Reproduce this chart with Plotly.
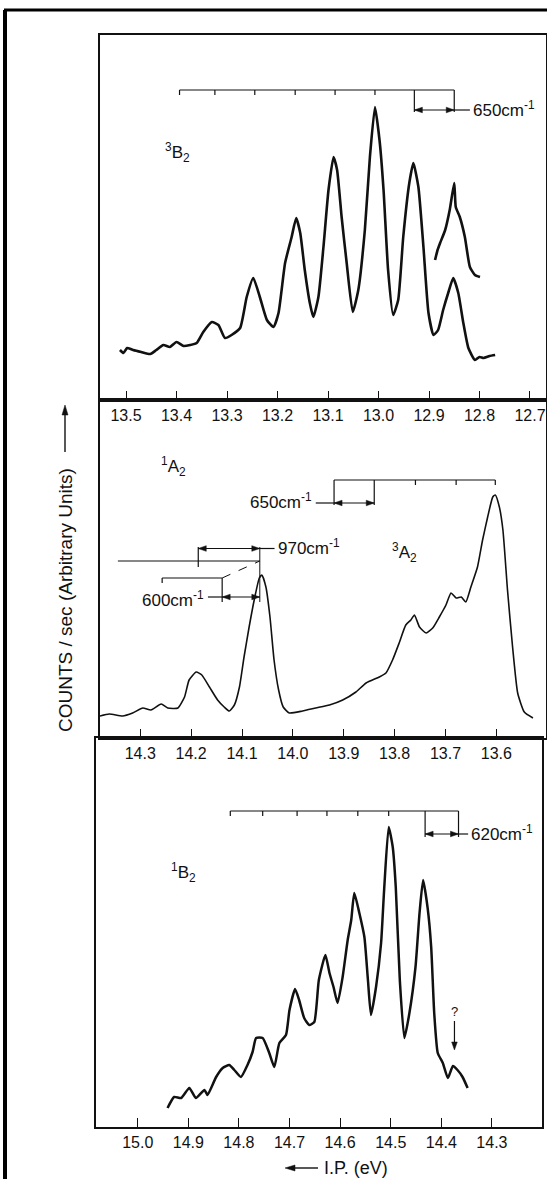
import plotly.graph_objects as go

# ---------------- data (I.P. in eV, intensity in arbitrary units) ----------------
# Panel 1: 3B2 band
e_3b2 = [13.512, 13.505, 13.498, 13.486, 13.470, 13.452, 13.440, 13.426, 13.413, 13.400, 13.386, 13.373,
         13.360, 13.347, 13.330, 13.317, 13.304, 13.291, 13.274, 13.261, 13.248, 13.235, 13.221,
         13.208, 13.198, 13.185, 13.172, 13.163, 13.155, 13.146, 13.136, 13.129, 13.119, 13.109,
         13.099, 13.089, 13.082, 13.073, 13.063, 13.051, 13.040, 13.027, 13.017, 13.007, 12.998,
         12.990, 12.981, 12.971, 12.961, 12.951, 12.939, 12.931, 12.921, 12.911, 12.901, 12.891,
         12.882, 12.872, 12.862, 12.852, 12.842, 12.832, 12.822, 12.809, 12.800, 12.792, 12.780, 12.769]
i_3b2 = [50, 47, 52, 50, 48, 46, 50, 55, 53, 58, 54, 55,
         57, 68, 78, 75, 62, 65, 72, 103, 122, 103, 80,
         73, 87, 137, 163, 182, 167, 130, 97, 83, 103, 153,
         210, 243, 230, 183, 137, 88, 110, 170, 243, 293, 260,
         210, 130, 85, 100, 163, 217, 237, 213, 153, 87, 65,
         70, 90, 107, 122, 107, 77, 52, 40, 43, 42, 44, 45]
# Panel 1: expanded-scale trace of the last peak
e_3b2_x = [12.888, 12.883, 12.878, 12.868, 12.859, 12.850, 12.847, 12.839, 12.829, 12.819, 12.809, 12.799]
i_3b2_x = [140, 150, 157, 170, 190, 217, 193, 183, 163, 133, 125, 123]

# Panel 2: 1A2 / 3A2 bands
e_a2 = [14.387, 14.361, 14.335, 14.315, 14.295, 14.279, 14.259, 14.246, 14.226, 14.213, 14.204,
        14.190, 14.179, 14.164, 14.148, 14.135, 14.125, 14.115, 14.105, 14.096, 14.086, 14.076,
        14.066, 14.061, 14.053, 14.045, 14.037, 14.028, 14.019, 14.007, 13.981, 13.955, 13.928,
        13.902, 13.876, 13.856, 13.830, 13.817, 13.804, 13.791, 13.778, 13.768, 13.761, 13.751,
        13.738, 13.725, 13.712, 13.699, 13.689, 13.679, 13.669, 13.660, 13.650, 13.637, 13.627,
        13.617, 13.607, 13.602, 13.594, 13.587, 13.578, 13.568, 13.558, 13.545, 13.528]
i_a2 = [21, 24, 22, 25, 30, 28, 34, 30, 30, 41, 58,
        66, 63, 51, 38, 31, 27, 33, 51, 81, 111, 138,
        160, 163, 151, 121, 78, 48, 31, 25, 27, 30, 33,
        38, 46, 55, 61, 65, 78, 95, 113, 118, 123, 111,
        105, 110, 121, 133, 145, 140, 141, 136, 151, 171, 198,
        221, 241, 243, 231, 208, 148, 91, 45, 26, 20]

# Panel 3: 1B2 band
e_1b2 = [14.941, 14.928, 14.914, 14.898, 14.885, 14.868, 14.862, 14.845, 14.832, 14.819, 14.809,
         14.796, 14.783, 14.773, 14.766, 14.753, 14.740, 14.730, 14.720, 14.707, 14.700, 14.689,
         14.681, 14.671, 14.661, 14.651, 14.642, 14.629, 14.621, 14.613, 14.605, 14.595, 14.585,
         14.578, 14.572, 14.562, 14.552, 14.545, 14.539, 14.529, 14.519, 14.513, 14.504, 14.496,
         14.490, 14.482, 14.473, 14.463, 14.451, 14.443, 14.436, 14.427, 14.420, 14.414, 14.407,
         14.397, 14.387, 14.377, 14.368, 14.358, 14.348]
i_1b2 = [19, 30, 29, 39, 29, 37, 32, 50, 59, 62, 57,
         50, 62, 75, 89, 89, 74, 60, 84, 92, 117, 138,
         127, 109, 102, 105, 147, 172, 154, 140, 124, 150, 187,
         207, 234, 214, 190, 147, 112, 140, 184, 237, 300, 280,
         240, 147, 89, 114, 160, 214, 247, 219, 180, 114, 74,
         64, 49, 61, 57, 50, 39]

# vibrational progressions (eV)
comb_3b2 = [13.394, 13.324, 13.245, 13.165, 13.086, 13.007, 12.929, 12.850]
comb_3a2 = [13.919, 13.840, 13.759, 13.679, 13.602]
comb_1b2 = [14.817, 14.753, 14.685, 14.626, 14.565, 14.504, 14.432, 14.366]
comb_970 = [14.344, 14.186, 14.065]
comb_600 = [14.257, 14.139, 14.065]
unknown_peak = 14.374

# axis ticks
ticks_p1 = [13.5, 13.4, 13.3, 13.2, 13.1, 13.0, 12.9, 12.8, 12.7]
ticks_p2 = [14.3, 14.2, 14.1, 14.0, 13.9, 13.8, 13.7, 13.6]
ticks_p3 = [15.0, 14.9, 14.8, 14.7, 14.6, 14.5, 14.4, 14.3]

# ---------------- layout helpers ----------------
W, H = 547, 1179
def px(x):
    return x / W
def py(y):
    return 1 - y / H

INK = "#111111"
FONT = "Liberation Sans, Arial, Helvetica, sans-serif"

# panel geometry: (x domain px, x range, y domain px, y range)
PANELS = {
    "1": dict(xd=(100, 546), xr=(13.5515, 12.6683), yd=(400, 35), yr=(0, 365), ticks=ticks_p1),
    "2": dict(xd=(100, 546), xr=(14.3792, 13.5023), yd=(738, 400), yr=(0, 338), ticks=ticks_p2),
    "3": dict(xd=(96, 542), xr=(15.0824, 14.2010), yd=(1127, 738), yr=(0, 389), ticks=ticks_p3),
}
def refs(k):
    return ("x", "y") if k == "1" else ("x" + k, "y" + k)
def kx(k):  # data units per pixel, x (signed: moving right)
    p = PANELS[k]
    return (p["xr"][1] - p["xr"][0]) / (p["xd"][1] - p["xd"][0])
def ky(k):  # data units per pixel, y (moving up)
    p = PANELS[k]
    return (p["yr"][1] - p["yr"][0]) / (p["yd"][0] - p["yd"][1])

fig = go.Figure()
def trace(x, y, w, k):
    xa, ya = refs(k)
    fig.add_trace(go.Scatter(x=x, y=y, mode="lines",
                             line=dict(color=INK, width=w, shape="spline", smoothing=0.5),
                             xaxis=xa, yaxis=ya, showlegend=False, hoverinfo="skip"))

trace(e_3b2, i_3b2, 2.6, "1")
trace(e_3b2_x, i_3b2_x, 2.6, "1")
trace(e_a2, i_a2, 1.6, "2")
trace(e_1b2, i_1b2, 2.5, "3")

shapes = []
annotations = []

def seg(k, x0, y0, x1, y1, w=1.2, dash="solid"):
    xr, yr = refs(k)
    shapes.append(dict(type="line", xref=xr, yref=yr, x0=x0, y0=y0, x1=x1, y1=y1,
                       line=dict(color=INK, width=w, dash=dash)))

def head_h(k, xtip, y, direction):
    # direction: +1 arrow points right on screen, -1 points left
    xr, yr = refs(k)
    bx = xtip - direction * 8 * kx(k)
    hy = 2.8 * ky(k)
    shapes.append(dict(type="path", xref=xr, yref=yr,
                       path=f"M {xtip},{y} L {bx},{y + hy} L {bx},{y - hy} Z",
                       fillcolor=INK, line=dict(color=INK, width=0.5)))

def double_arrow(k, a, b, y):
    # a is the left bar on screen (higher eV), b the right one
    seg(k, a, y, b, y)
    head_h(k, a, y, -1)
    head_h(k, b, y, +1)

def label(k, x, y, text, anchor="center", size=17):
    xr, yr = refs(k)
    annotations.append(dict(x=x, y=y, xref=xr, yref=yr, text=text, showarrow=False,
                            xanchor=anchor, yanchor="middle",
                            font=dict(family=FONT, size=size, color=INK)))

def comb(k, pos, level, tick, bars, bar_low):
    seg(k, pos[0], level, pos[-1], level)
    for p in pos:
        low = bar_low if p in bars else level - tick
        seg(k, p, level, p, low)

# Panel 1 annotations
comb("1", comb_3b2, 310, 5, comb_3b2[-2:], 288)
double_arrow("1", comb_3b2[-2], comb_3b2[-1], 290)
seg("1", comb_3b2[-1], 290, 12.819, 290)
label("1", 12.816, 291, "650cm<sup>-1</sup>", "left")
label("1", 13.398, 248, "<sup>3</sup>B<sub>2</sub>")

# Panel 2 annotations
comb("2", comb_3a2, 258, 5, comb_3a2[:2], 233)
double_arrow("2", comb_3a2[0], comb_3a2[1], 235)
seg("2", comb_3a2[0], 235, 13.955, 235)
label("2", 13.958, 237, "650cm<sup>-1</sup>", "right")
label("2", 14.235, 271, "<sup>1</sup>A<sub>2</sub>")
label("2", 13.781, 185, "<sup>3</sup>A<sub>2</sub>")
# 970 cm-1
seg("2", comb_970[0], 177, comb_970[2], 177)
seg("2", comb_970[1], 191, comb_970[1], 171)
seg("2", comb_970[2], 191, comb_970[2], 136, w=1.0)
double_arrow("2", comb_970[1], comb_970[2], 189.5)
seg("2", comb_970[2], 189.5, 14.036, 189.5)
label("2", 14.033, 191, "970cm<sup>-1</sup>", "left")
# 600 cm-1
seg("2", comb_600[0], 160, comb_600[1], 160)
seg("2", comb_600[0], 160, comb_600[0], 155)
seg("2", comb_600[1], 160, comb_600[1], 136)
seg("2", comb_600[1], 160, comb_600[2], 177, w=1.0, dash="dash")
double_arrow("2", comb_600[1], comb_600[2], 141)
seg("2", comb_600[1], 141, 14.167, 141)
label("2", 14.170, 139, "600cm<sup>-1</sup>", "right")

# Panel 3 annotations
comb("3", comb_1b2, 316, 5, comb_1b2[-2:], 290)
double_arrow("3", comb_1b2[-2], comb_1b2[-1], 293)
seg("3", comb_1b2[-1], 293, 14.347, 293)
label("3", 14.345, 294, "620cm<sup>-1</sup>", "left")
label("3", 14.909, 255, "<sup>1</sup>B<sub>2</sub>")
label("3", unknown_peak, 116, "?", size=13)
seg("3", unknown_peak, 106, unknown_peak, 82)
shapes.append(dict(type="path", xref="x3", yref="y3",
                   path=(f"M {unknown_peak},77 L {unknown_peak - 2.8 * kx('3')},{77 + 8 * ky('3')} "
                         f"L {unknown_peak + 2.8 * kx('3')},{77 + 8 * ky('3')} Z"),
                   fillcolor=INK, line=dict(color=INK, width=0.5)))

# Axis titles (paper)
annotations.append(dict(x=px(65), y=py(600), xref="paper", yref="paper", textangle=-90,
                        xanchor="center", yanchor="middle",
                        text="COUNTS / sec (Arbitrary Units)", showarrow=False,
                        font=dict(family=FONT, size=19, color=INK)))
annotations.append(dict(x=px(322), y=py(1168), xref="paper", yref="paper",
                        text="I.P. (eV)", showarrow=False, xanchor="left", yanchor="middle",
                        font=dict(family=FONT, size=18, color=INK)))
# arrow of the y title (pointing up)
shapes.append(dict(type="line", xref="paper", yref="paper", x0=px(65), y0=py(452), x1=px(65), y1=py(412),
                   line=dict(color=INK, width=1.4)))
shapes.append(dict(type="path", xref="paper", yref="paper",
                   path=f"M {px(65)},{py(405)} L {px(62)},{py(415)} L {px(68)},{py(415)} Z",
                   fillcolor=INK, line=dict(color=INK, width=0.5)))
# arrow of the x title (pointing left)
shapes.append(dict(type="line", xref="paper", yref="paper", x0=px(318), y0=py(1168), x1=px(292), y1=py(1168),
                   line=dict(color=INK, width=1.4)))
shapes.append(dict(type="path", xref="paper", yref="paper",
                   path=f"M {px(285)},{py(1168)} L {px(295)},{py(1165)} L {px(295)},{py(1171)} Z",
                   fillcolor=INK, line=dict(color=INK, width=0.5)))

# Outer frame of the scanned figure
shapes.append(dict(type="line", xref="paper", yref="paper", x0=px(5), y0=py(10), x1=px(5), y1=py(1179),
                   line=dict(color="black", width=4)))
shapes.append(dict(type="line", xref="paper", yref="paper", x0=px(4), y0=py(10), x1=px(547), y1=py(10),
                   line=dict(color="black", width=3)))

layout_axes = {}
for k, p in PANELS.items():
    xa, ya = refs(k)
    xname = "xaxis" if k == "1" else "xaxis" + k
    yname = "yaxis" if k == "1" else "yaxis" + k
    layout_axes[xname] = dict(
        domain=[px(p["xd"][0]), px(p["xd"][1])], range=list(p["xr"]), anchor=ya,
        tickvals=p["ticks"], ticktext=[f"{t:.1f}" for t in p["ticks"]],
        ticks="inside", ticklen=9, tickwidth=1.3, tickcolor=INK,
        showline=True, linecolor=INK, linewidth=1.5, mirror=True,
        showgrid=False, zeroline=False, tickfont=dict(family=FONT, size=16, color=INK))
    layout_axes[yname] = dict(
        domain=[py(p["yd"][0]), py(p["yd"][1])], range=list(p["yr"]), anchor=xa,
        showticklabels=False, ticks="", showline=True, linecolor=INK, linewidth=1.5,
        mirror=True, showgrid=False, zeroline=False)

fig.update_layout(
    width=W, height=H, margin=dict(l=0, r=0, t=0, b=0),
    paper_bgcolor="white", plot_bgcolor="white",
    shapes=shapes, annotations=annotations, **layout_axes,
)

fig.write_html("out.html", config={"displayModeBar": False},
               post_script="document.body.style.margin='0';document.body.style.overflow='hidden';")
